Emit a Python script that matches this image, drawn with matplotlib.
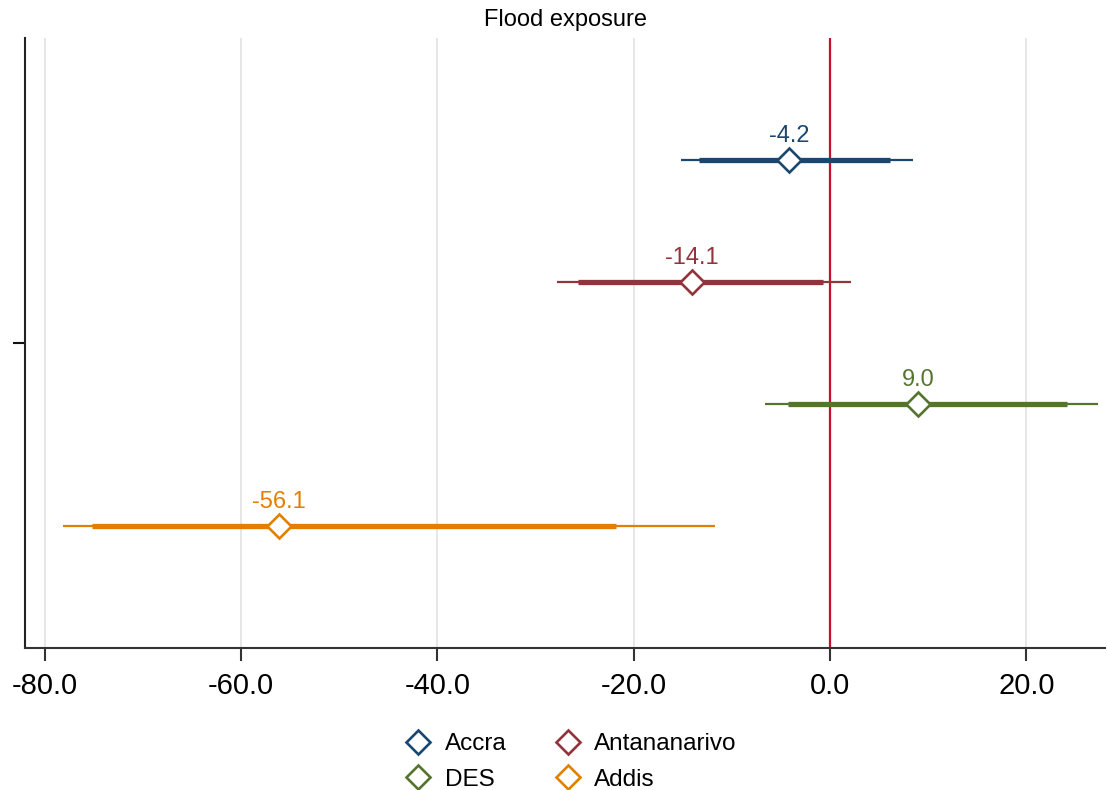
import matplotlib
matplotlib.use("Agg")
import matplotlib.pyplot as plt
from matplotlib.lines import Line2D

plt.rcParams['font.family'] = ['Liberation Sans', 'DejaVu Sans']

groups = ["Accra", "Antananarivo", "DES", "Addis"]
estimates = [-4.2, -14.1, 9.0, -56.1]
ci95_low = [-15.2, -27.8, -6.6, -78.1]
ci95_high = [8.4, 2.1, 27.3, -11.7]
ci90_low = [-13.4, -25.7, -4.3, -75.2]
ci90_high = [6.1, -0.7, 24.1, -21.8]
colors = ["#1a476f", "#90353b", "#55752f", "#e37e00"]
xticks = [-80, -60, -40, -20, 0, 20]
title = "Flood exposure"

fig = plt.figure(figsize=(11.07, 7.9), dpi=100)
ax = fig.add_axes([25/1107, 142/790, 1080/1107, 610/790])

for xt in xticks:
    ax.axvline(xt, color="#e4e4e4", lw=1.3, zorder=0)
ax.axvline(0, color="#c8102e", lw=1.6, zorder=1)

ypos = [1, 2, 3, 4]
for i, g in enumerate(groups):
    y = ypos[i]
    c = colors[i]
    ax.plot([ci95_low[i], ci95_high[i]], [y, y], color=c, lw=1.6, solid_capstyle='butt', zorder=2)
    ax.plot([ci90_low[i], ci90_high[i]], [y, y], color=c, lw=3.8, solid_capstyle='butt', zorder=3)
    ax.plot([estimates[i]], [y], marker='D', ms=12.5, mfc='white', mec=c, mew=1.9,
            linestyle='none', zorder=4)
    ax.annotate(f"{estimates[i]:.1f}", (estimates[i], y), xytext=(0, 9.5),
                textcoords='offset points', ha='center', va='bottom',
                color=c, fontsize=17)

ax.set_xlim(-82, 28)
ax.set_ylim(5, 0)
ax.set_xticks(xticks)
ax.set_xticklabels([f"{v:.1f}" for v in xticks], fontsize=21)
ax.set_yticks([2.5])
ax.set_yticklabels([""])
ax.tick_params(axis='x', length=9, width=1.5, color="#333333", pad=8)
ax.tick_params(axis='y', length=9, width=1.5, color="#111111")
for s in ['top', 'right']:
    ax.spines[s].set_visible(False)
ax.spines['left'].set_linewidth(1.5)
ax.spines['left'].set_color("#222222")
ax.spines['bottom'].set_linewidth(1.5)
ax.spines['bottom'].set_color("#333333")

fig.text((25 + 1105) / 2 / 1107, 1 - 20 / 790, title, ha='center', va='center', fontsize=17)

order = [0, 2, 1, 3]
handles = [Line2D([], [], marker='D', ms=12.5, mfc='white', mec=colors[k], mew=1.9, linestyle='none')
           for k in order]
labels = [groups[k] for k in order]
leg = fig.legend(handles, labels, loc='center', bbox_to_anchor=(571 / 1107, 1 - 762 / 790),
                 ncol=2, frameon=False, fontsize=17.5, handletextpad=0.55,
                 columnspacing=1.95, labelspacing=0.55, handlelength=1.1,
                 borderpad=0.2)

fig.savefig("out.png", dpi=100)
